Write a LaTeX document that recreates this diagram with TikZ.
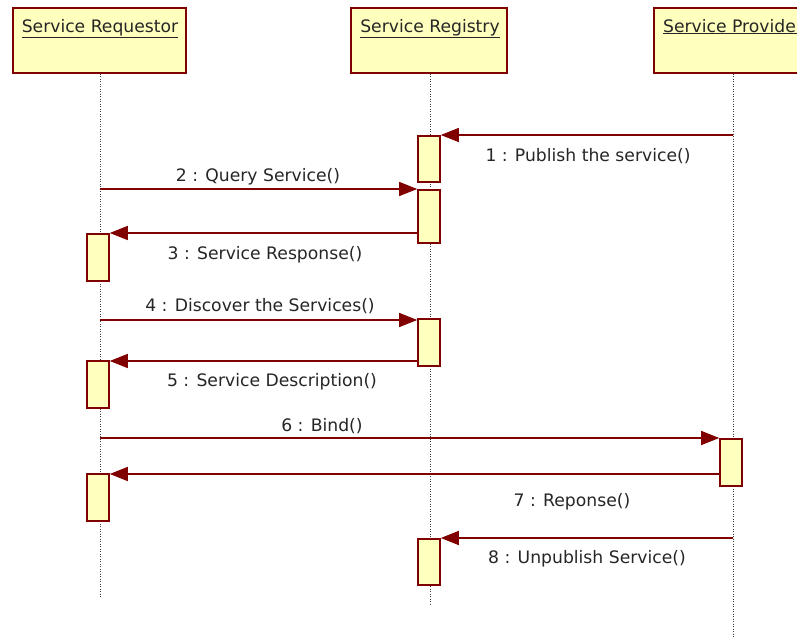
\documentclass[tikz,border=0pt]{standalone}
\usepackage{fontspec}
\setmainfont{DejaVu Sans}
\usetikzlibrary{arrows.meta}
\definecolor{dred}{RGB}{128,0,0}
\definecolor{pale}{RGB}{255,255,190}
\definecolor{lgray}{RGB}{60,60,60}
\begin{document}
\begin{tikzpicture}[x=1pt,y=-1pt,
  every node/.style={font=\fontsize{17.2}{20}\selectfont, text=black!85},
  head/.style={draw=dred, fill=pale, line width=1.6pt, inner sep=0pt, anchor=north west},
  act/.style={draw=dred, fill=pale, line width=1.6pt, inner sep=0pt, minimum width=22pt, anchor=north},
  life/.style={draw=lgray, line width=1pt, dash pattern=on 1pt off 1.5pt},
  msg/.style={draw=dred, line width=1.5pt, -{Triangle[length=18pt,width=14pt]}},
  lbl/.style={anchor=base}]
\clip (0,0) rectangle (797,637);
\useasboundingbox (0,0) rectangle (797,637);
\fill[white] (0,0) rectangle (797,637);
% headers
\node[head, minimum width=173pt, minimum height=65pt] (HR) at (12,7) {};
\node[head, minimum width=156pt, minimum height=65pt] (HG) at (350,7) {};
\node[head, minimum width=160pt, minimum height=65pt] (HP) at (653,7) {};
\node[lbl] (tR) at (100,32) {\underline{Service Requestor}};
\node[lbl] (tG) at (430,32) {\underline{Service Registry}};
\node[lbl] (tP) at (733,32) {\underline{Service Provider}};
% lifelines
\coordinate (LR) at (100,598);
\coordinate (LG) at (430,605);
\coordinate (LP) at (733,637);
\draw[life] (HR.south -| LR) -- (LR);
\draw[life] (HG.south -| LG) -- (LG);
\draw[life] (HP.south -| LP) -- (LP);
% activations
\node[act, minimum height=46pt] (A1) at (429,135) {};
\node[act, minimum height=53pt] (A2) at (429,189) {};
\node[act, minimum height=47pt] (A3) at (429,318) {};
\node[act, minimum height=46pt] (A4) at (429,538) {};
\node[act, minimum height=47pt] (B1) at (98,233) {};
\node[act, minimum height=47pt] (B2) at (98,360) {};
\node[act, minimum height=47pt] (B3) at (98,473) {};
\node[act, minimum height=47pt] (C1) at (731,438) {};
% message anchor points on lifelines
\coordinate (m1) at (733,135);
\coordinate (m2) at (100,189);
\coordinate (m3) at (418,233);
\coordinate (m4) at (100,320);
\coordinate (m5) at (418,361);
\coordinate (m6) at (100,438);
\coordinate (m7) at (720,474);
\coordinate (m8) at (733,538);
% messages
\draw[msg] (m1) -- (A1.east |- m1);
\draw[msg] (m2) -- (A2.west |- m2);
\draw[msg] (A2.west |- m3) -- (B1.east |- m3);
\draw[msg] (m4) -- (A3.west |- m4);
\draw[msg] (A3.west |- m5) -- (B2.east |- m5);
\draw[msg] (m6) -- (C1.west |- m6);
\draw[msg] (C1.west |- m7) -- (B3.east |- m7);
\draw[msg] (m8) -- (A4.east |- m8);
% labels
\node[lbl] (l1) at (588,161) {1 : Publish the service()};
\node[lbl] (l2) at (258,181) {2 : Query Service()};
\node[lbl] (l3) at (265,259) {3 : Service Response()};
\node[lbl] (l4) at (260,311) {4 : Discover the Services()};
\node[lbl] (l5) at (272,386) {5 : Service Description()};
\node[lbl] (l6) at (322,431) {6 : Bind()};
\node[lbl] (l7) at (572,506) {7 : Reponse()};
\node[lbl] (l8) at (587,563) {8 : Unpublish Service()};
\end{tikzpicture}
\end{document}
